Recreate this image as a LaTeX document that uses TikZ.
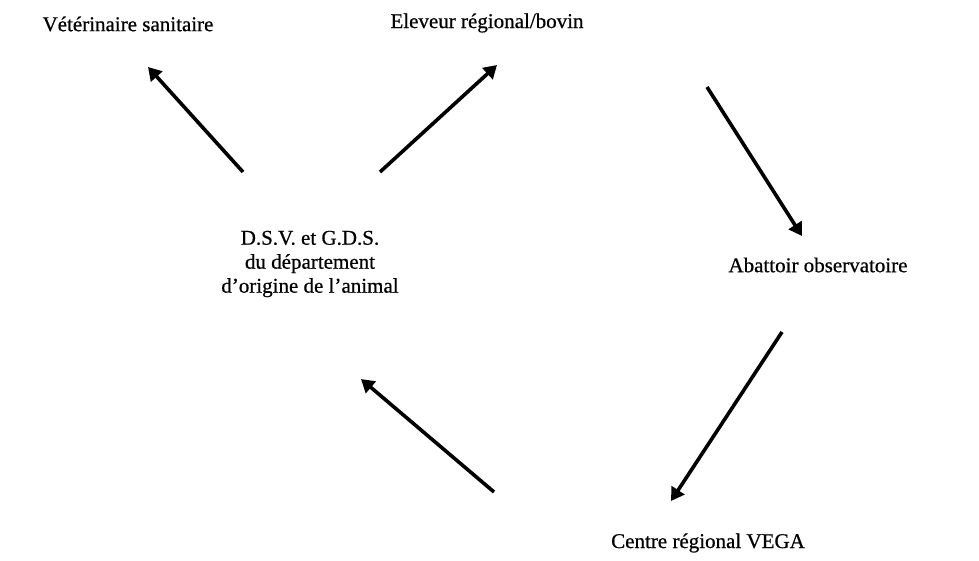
\documentclass[tikz,border=0pt]{standalone}
\usepackage{fontspec}
\setmainfont[FakeBold=0.6]{Liberation Serif}
\usetikzlibrary{arrows.meta}
\begin{document}
\begin{tikzpicture}[x=1pt,y=-1pt,
  lbl/.style={inner sep=0pt,font=\fontsize{21}{24}\selectfont,align=center},
  flow/.style={line width=3.6pt,-{Triangle[width=15pt,length=13pt]}}]
\useasboundingbox (0,0) rectangle (979,560);
\node[lbl] (vet) at (128,24) {Vétérinaire sanitaire};
\node[lbl] (ele) at (487,23) {Eleveur régional/bovin};
\node[lbl] (dsv) at (310,264) {D.S.V. et G.D.S.\\du département\\d'origine de l'animal};
\node[lbl] (aba) at (818,265) {Abattoir observatoire};
\node[lbl] (veg) at (708,543) {Centre régional VEGA};
\coordinate (a1s) at (243,172); \coordinate (a1e) at (148,67);
\coordinate (a2s) at (380,172); \coordinate (a2e) at (497,65);
\coordinate (a3s) at (707,87);  \coordinate (a3e) at (802,236);
\coordinate (a4s) at (782,332); \coordinate (a4e) at (671,501);
\coordinate (a5s) at (494,492); \coordinate (a5e) at (361,379);
\draw[flow] (a1s) -- (a1e);
\draw[flow] (a2s) -- (a2e);
\draw[flow] (a3s) -- (a3e);
\draw[flow] (a4s) -- (a4e);
\draw[flow] (a5s) -- (a5e);
\end{tikzpicture}
\end{document}
